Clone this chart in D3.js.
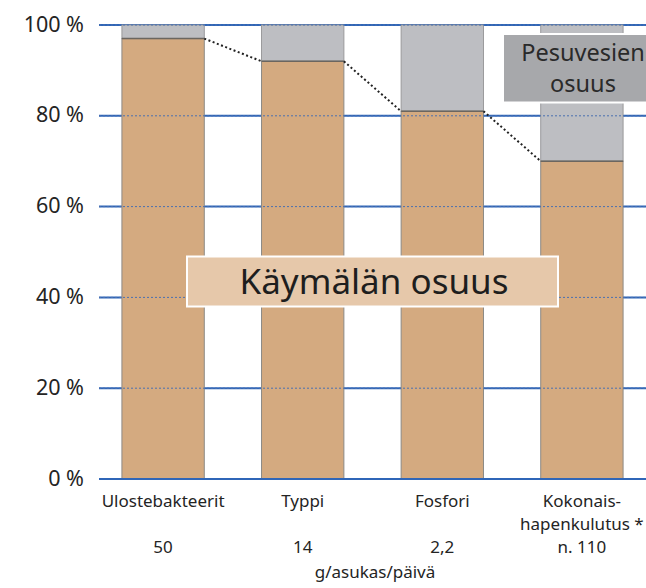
<!DOCTYPE html>
<html><head><meta charset="utf-8">
<script src="https://cdn.jsdelivr.net/npm/d3@7"></script>
<style>body{margin:0;background:#fff}svg{display:block}text{font-family:"Noto Sans","Open Sans",sans-serif}</style>
</head><body><div id="c"></div>
<script>
const categories = ["Ulostebakteerit", "Typpi", "Fosfori", "Kokonais-|hapenkulutus *"];
const amounts = ["50", "14", "2,2", "n. 110"];
const toiletShare = [97, 92, 81, 70];
const washShare = [3, 8, 19, 30];
const yTicks = [0, 20, 40, 60, 80, 100];
const unitLabel = "g/asukas/päivä";
const toiletLabel = "Käymälän osuus";
const washLabel = ["Pesuvesien", "osuus"];

const W = 646, H = 588;
const svg = d3.select("#c").append("svg").attr("width", W).attr("height", H);
const y = d3.scaleLinear().domain([0, 100]).range([479, 25]);
const x = d3.scaleBand().domain(categories).range([94, 651]).paddingInner(0.41).paddingOuter(0.2);
const gridX0 = 99, gridX1 = 646;
const blue = "#2f66b8";
const ink = "#242424";

// solid gridlines
svg.append("g").selectAll("line").data(yTicks).join("line")
  .attr("x1", gridX0).attr("x2", gridX1)
  .attr("y1", d => y(d)).attr("y2", d => y(d))
  .attr("stroke", blue).attr("stroke-width", 2);

// y tick labels
svg.append("g").selectAll("text").data(yTicks).join("text")
  .attr("x", 84).attr("y", d => y(d) + 6.5)
  .attr("text-anchor", "end").attr("font-size", 21.5).attr("fill", ink)
  .text(d => d + " %");

const rows = categories.map((c, i) => ({c, t: toiletShare[i], w: washShare[i]}));
const bars = svg.append("g");
// wash (gray) segment
bars.selectAll("rect.w").data(rows).join("rect").attr("class", "w")
  .attr("x", d => x(d.c)).attr("width", x.bandwidth())
  .attr("y", d => y(d.t + d.w)).attr("height", d => y(d.t) - y(d.t + d.w))
  .attr("fill", "#bdbec2").attr("stroke", "#9a9a9c").attr("stroke-width", 1);
// toilet (brown) segment
bars.selectAll("rect.t").data(rows).join("rect").attr("class", "t")
  .attr("x", d => x(d.c)).attr("width", x.bandwidth())
  .attr("y", d => y(d.t)).attr("height", d => y(0) - y(d.t))
  .attr("fill", "#d4aa80").attr("stroke", "#8c8a86").attr("stroke-width", 1);
// boundary line
bars.selectAll("line.b").data(rows).join("line").attr("class", "b")
  .attr("x1", d => x(d.c)).attr("x2", d => x(d.c) + x.bandwidth())
  .attr("y1", d => y(d.t)).attr("y2", d => y(d.t))
  .attr("stroke", "#6b6660").attr("stroke-width", 1.5);

// dashed gridlines over bars
svg.append("g").selectAll("line").data(yTicks.filter(d => d > 0)).join("line")
  .attr("x1", gridX0).attr("x2", gridX1)
  .attr("y1", d => y(d)).attr("y2", d => y(d))
  .attr("stroke", "#4a70b0").attr("stroke-width", 1).attr("stroke-dasharray", "2,2");
svg.append("line").attr("x1", gridX0).attr("x2", gridX1).attr("y1", y(0)).attr("y2", y(0))
  .attr("stroke", blue).attr("stroke-width", 2);

// dotted connectors
const conn = d3.pairs(rows);
svg.append("g").selectAll("line").data(conn).join("line")
  .attr("x1", d => x(d[0].c) + x.bandwidth()).attr("y1", d => y(d[0].t))
  .attr("x2", d => x(d[1].c)).attr("y2", d => y(d[1].t))
  .attr("stroke", "#222").attr("stroke-width", 2).attr("stroke-dasharray", "2,2.5");

// category labels
const lab = svg.append("g").attr("font-size", 17).attr("fill", ink).attr("text-anchor", "middle");
categories.forEach((c, i) => {
  const lines = c.split("|");
  const cx = x(c) + x.bandwidth() / 2;
  lines.forEach((l, j) => lab.append("text").attr("x", cx).attr("y", 506.5 + j * 23.4).text(l));
  lab.append("text").attr("x", cx).attr("y", 553.3).text(amounts[i]);
});
lab.append("text").attr("x", 375).attr("y", 578).text(unitLabel);

// Käymälän osuus box
svg.append("rect").attr("x", 187).attr("y", 256.5).attr("width", 371).attr("height", 50)
  .attr("fill", "#e6c8aa").attr("stroke", "#fff").attr("stroke-width", 2);
svg.append("text").attr("x", 374).attr("y", 294).attr("text-anchor", "middle")
  .attr("font-size", 35).attr("fill", "#1e1e1e").text(toiletLabel);

// Pesuvesien osuus box
svg.append("rect").attr("x", 503).attr("y", 34).attr("width", 150).attr("height", 68.5)
  .attr("fill", "#a7a8ab").attr("stroke", "#fff").attr("stroke-width", 2);
washLabel.forEach((l, j) => svg.append("text").attr("x", 583).attr("y", 61 + j * 31)
  .attr("text-anchor", "middle").attr("font-size", 23.5).attr("fill", "#2a2a2a").text(l));
</script></body></html>
